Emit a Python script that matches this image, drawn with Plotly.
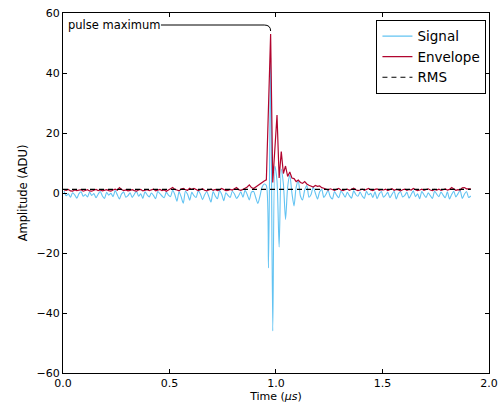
import numpy as np
import plotly.graph_objects as go

# ---- data ----
dt = 0.01
t0 = 0.005

signal = [
    0.6, -0.9, -0.3, -1.4, 0.1, -0.6, -1.7, -0.2, 0.4, -1.1,
    -0.5, -1.3, 0.3, -0.8, -0.2, -1.6, -0.4, 0.5, -1.0, -1.8,
    0.2, -0.7, -0.1, -1.2, 0.8, -0.6, -2.0, -0.3, 0.3, -1.4,
    -0.9, 0.1, -1.5, -0.4, 0.6, -1.1, -0.3, -1.8, 0.4, -0.6,
    -1.3, 0.0, -0.8, -1.9, 0.5, -0.2, -1.0, -1.6, 0.3, -0.7,
    -1.2, 0.9, -0.5, -2.7, 0.4, -1.3, -3.4, 0.6, -0.4, -2.4,
    0.2, -0.9, -1.5, 0.7, -0.3, -2.2, -0.6, 0.4, -1.2, -3.0,
    0.5, -1.0, -1.9, 0.8, -0.4, -2.6, 0.1, -0.8, -1.5, 0.6,
    -0.3, -1.8, -0.9, 0.4, -1.4, 0.9, -0.5, -2.3, 0.3, 0.5,
    -1.5, -3.5, -1.0, 2.0, 3.0, 2.5, -25.0, 45.0, -46.0, 9.0,
    4.0, -18.0, 8.0, 3.0, -8.8, 2.0, 6.0, 0.0, -4.3, 2.0,
    4.0, -1.0, -2.3, 1.0, 2.5, -1.4, -0.5, 2.0, 0.0, -2.0,
    0.3, 1.2, -1.5, -0.4, 0.9, -1.2, -2.0, 0.5, -0.7, -1.6,
    0.6, -0.2, -1.4, 0.2, -0.9, -1.7, 0.7, -0.5, -1.1, 0.3,
    -1.0, -1.8, 0.6, -0.6, -0.1, -1.5, 0.4, -1.9, -0.3, 0.5,
    -1.4, -0.7, 0.2, -1.6, -0.4, 0.6, -2.0, -0.2, 0.4, -1.3,
    -0.8, 0.3, -1.7, -0.5, 0.7, -1.2, -0.3, -1.9, 0.5, -0.6,
    -1.5, 0.1, -0.9, -1.8, 0.6, -0.4, -1.2, 0.3, -0.7, -1.6,
    0.4, -2.0, -0.5, 0.6, -1.3, -0.2, 0.8, -1.8, -0.4, 0.5,
    -1.5, -1.0,
]

envelope = [
    1.0, 0.9, 1.2, 0.7, 0.6, 1.0, 0.8, 0.9, 1.1, 0.6,
    0.8, 1.1, 0.7, 0.6, 0.9, 1.2, 0.8, 1.0, 0.7, 0.9,
    1.1, 0.8, 0.6, 1.0, 1.3, 0.9, 1.8, 1.2, 0.8, 1.0,
    0.7, 0.9, 1.1, 0.8, 0.6, 1.0, 1.2, 0.7, 0.9, 1.1,
    0.8, 1.0, 1.3, 0.7, 0.9, 1.2, 0.8, 1.0, 0.6, 0.9,
    1.4, 1.8, 1.2, 1.0, 0.7, 1.3, 1.5, 1.1, 0.9, 1.6,
    1.2, 1.5, 1.0, 0.8, 1.1, 1.4, 0.9, 0.7, 1.0, 1.3,
    0.9, 1.2, 0.8, 1.0, 1.5, 1.1, 0.8, 0.9, 1.2, 1.0,
    1.3, 1.8, 1.1, 0.9, 1.2, 1.6, 2.0, 2.7, 1.8, 1.5,
    2.0, 2.8, 3.3, 3.6, 4.0, 4.4, 28.0, 53.0, 3.5, 14.5,
    26.0, 5.0, 13.8, 6.5, 9.0, 5.5, 7.0, 5.0, 4.8, 3.8,
    4.3, 3.5, 3.2, 3.8, 3.0, 2.6, 2.4, 2.0, 2.5, 2.2,
    2.4, 1.8, 1.6, 1.3, 1.0, 1.4, 1.1, 0.9, 1.2, 1.5,
    1.0, 0.8, 1.1, 1.3, 0.9, 1.2, 1.6, 1.1, 0.8, 1.0,
    1.3, 0.9, 1.1, 1.5, 1.0, 0.8, 1.2, 1.4, 0.9, 1.1,
    1.0, 1.3, 0.8, 1.1, 1.4, 0.9, 1.2, 1.0, 0.7, 1.1,
    1.3, 0.9, 1.2, 1.0, 1.5, 1.1, 0.8, 1.0, 1.3, 0.9,
    1.1, 1.4, 1.0, 0.8, 1.2, 1.0, 1.3, 0.9, 1.1, 1.4,
    1.0, 1.2, 1.8, 1.3, 0.9, 1.1, 1.0, 1.7, 1.8, 1.4,
    1.5, 1.4,
]

rms_value = 1.2

x_ticks = [0.0, 0.5, 1.0, 1.5, 2.0]
y_ticks = [-60, -40, -20, 0, 20, 40, 60]

time = t0 + dt * np.arange(len(signal))

# ---- figure ----
FONT = "DejaVu Sans"
fig = go.Figure()

fig.add_trace(go.Scatter(
    x=time, y=signal, mode="lines", name="Signal",
    line=dict(color="#62c3f2", width=1.1, shape="spline", smoothing=0.7),
))
fig.add_trace(go.Scatter(
    x=time, y=envelope, mode="lines", name="Envelope",
    line=dict(color="#b1052f", width=1.2),
))
fig.add_trace(go.Scatter(
    x=[time[0] - t0, time[-1]], y=[rms_value, rms_value], mode="lines", name="RMS",
    line=dict(color="black", width=1.1, dash="5px,4px"),
))

# annotation: pulse maximum
ipk = int(np.argmax(envelope))
pk_t = float(time[ipk])
pk_v = float(envelope[ipk])
lab_y = pk_v + 3

fig.add_annotation(
    x=0.012, y=lab_y, xref="x", yref="y", text="pulse maximum",
    showarrow=False, xanchor="left", yanchor="middle",
    font=dict(family=FONT, size=11.5, color="black"),
)
fig.add_shape(
    type="path", xref="x", yref="y",
    path=f"M 0.46,{lab_y} L {pk_t - 0.03},{lab_y} Q {pk_t},{lab_y} {pk_t},{lab_y - 2}",
    line=dict(color="black", width=1),
)
fig.add_annotation(
    x=pk_t, y=pk_v + 0.2, ax=pk_t, ay=lab_y - 1.9, xref="x", yref="y",
    axref="x", ayref="y", text="", showarrow=True,
    arrowhead=2, arrowsize=1, arrowwidth=1, arrowcolor="black", standoff=0,
)

axis_common = dict(
    showline=True, linecolor="black", linewidth=1, mirror="allticks",
    ticks="inside", ticklen=4, tickwidth=1, tickcolor="black",
    showgrid=False, zeroline=False,
    tickfont=dict(family=FONT, size=11, color="black"),
)

fig.update_xaxes(
    range=[0, 2.0005], tickvals=x_ticks, tickformat=".1f",
    ticklabeloverflow="allow",
    title=dict(text="Time (<i>μs</i>)", font=dict(family=FONT, size=11, color="black"), standoff=3),
    **axis_common,
)
fig.update_yaxes(
    range=[-60, 60], tickvals=y_ticks,
    title=dict(text="Amplitude (ADU)", font=dict(family=FONT, size=11.5, color="black"), standoff=6),
    **axis_common,
)

fig.update_layout(
    width=498, height=403,
    margin=dict(l=63, r=9, t=13, b=30, autoexpand=False),
    paper_bgcolor="white", plot_bgcolor="white",
    font=dict(family=FONT, size=11.5, color="black"),
    legend=dict(
        x=0.994, y=0.981, xanchor="right", yanchor="top",
        bgcolor="white", bordercolor="black", borderwidth=1,
        font=dict(family=FONT, size=13.5, color="black"),
    ),
)

fig.write_html("out.html")
